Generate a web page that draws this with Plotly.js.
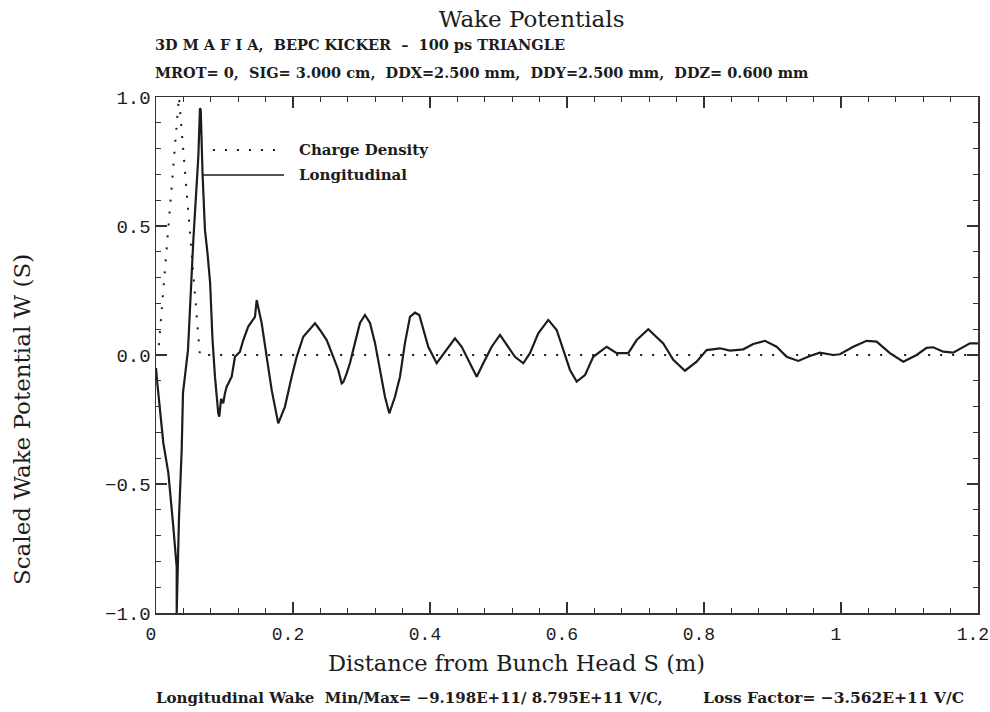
<!DOCTYPE html>
<html>
<head>
<meta charset="utf-8">
<script src="https://cdn.plot.ly/plotly-3.0.1.min.js"></script>
<style>html,body{margin:0;padding:0;background:#fff;}#chart{width:990px;height:712px;}</style>
</head>
<body>
<div id="chart"></div>
<script>
// ---- data ----
const chargeS = [0.0, 0.003, 0.0335, 0.0641, 1.2];
const chargeW = [0.0, 0.0, 1.0, 0.0, 0.0];

const wakeS = [0.0, 0.0019, 0.0107, 0.018, 0.0253, 0.0302, 0.0302, 0.0336, 0.0375, 0.0394, 0.0438, 0.0467,
  0.0545, 0.0618, 0.0642, 0.0653, 0.068, 0.0715, 0.075, 0.079, 0.0825, 0.0861, 0.0909, 0.0924,
  0.095, 0.0982, 0.1005, 0.1032, 0.1105, 0.1128, 0.1153, 0.1226, 0.1274, 0.1347, 0.1445, 0.147,
  0.1543, 0.1616, 0.1689, 0.1785, 0.1883, 0.1981, 0.2054, 0.215, 0.2248, 0.2321, 0.2394, 0.2492,
  0.2588, 0.2661, 0.2711, 0.2735, 0.2784, 0.2832, 0.2905, 0.2978, 0.3051, 0.3124, 0.3197, 0.327,
  0.3343, 0.3406, 0.3489, 0.3562, 0.3635, 0.3708, 0.3781, 0.3844, 0.3902, 0.3975, 0.4098, 0.4219,
  0.4365, 0.4463, 0.4584, 0.4682, 0.4778, 0.4901, 0.5022, 0.512, 0.5241, 0.5362, 0.546, 0.5581,
  0.5727, 0.585, 0.5946, 0.6044, 0.6142, 0.6263, 0.6384, 0.658, 0.6726, 0.6895, 0.7018, 0.7187,
  0.7406, 0.7552, 0.7723, 0.7893, 0.8039, 0.8234, 0.838, 0.8574, 0.872, 0.889, 0.9061, 0.9207,
  0.9377, 0.9547, 0.9693, 0.9888, 0.9985, 1.018, 1.0375, 1.0521, 1.0715, 1.091, 1.1105, 1.125,
  1.1347, 1.1493, 1.1639, 1.1762, 1.1883, 1.2];
const wakeW = [-0.05, -0.109, -0.341, -0.457, -0.667, -0.822, -1.0, -0.628, -0.368, -0.147, -0.047, 0.019,
  0.446, 0.769, 0.956, 0.95, 0.70, 0.484, 0.40, 0.28, 0.06, -0.084, -0.226, -0.239,
  -0.17, -0.187, -0.15, -0.123, -0.084, -0.045, -0.007, 0.013, 0.058, 0.11, 0.148, 0.213,
  0.123, -0.007, -0.136, -0.265, -0.2, -0.084, -0.007, 0.071, 0.103, 0.123, 0.097, 0.058,
  -0.007, -0.058, -0.11, -0.105, -0.071, -0.031, 0.047, 0.124, 0.155, 0.124, 0.047, -0.058,
  -0.162, -0.226, -0.162, -0.084, 0.047, 0.148, 0.164, 0.155, 0.097, 0.032, -0.032, 0.013,
  0.065, 0.032, -0.032, -0.084, -0.032, 0.032, 0.078, 0.039, -0.007, -0.032, 0.007, 0.084,
  0.136, 0.097, 0.019, -0.058, -0.103, -0.078, -0.007, 0.032, 0.007, 0.007, 0.058, 0.1,
  0.045, -0.019, -0.061, -0.026, 0.019, 0.026, 0.017, 0.022, 0.043, 0.055, 0.032, -0.007,
  -0.023, -0.004, 0.009, 0.0, 0.003, 0.032, 0.055, 0.052, 0.007, -0.026, 0.0, 0.028,
  0.03, 0.013, 0.009, 0.026, 0.045, 0.045];

const titleText = 'Wake Potentials';
const line1Text = '3D M A F I A,\u00A0\u00A0BEPC KICKER\u00A0\u00A0\u2013\u00A0\u00A0100 ps TRIANGLE';
const line2Text = 'MROT= 0,\u00A0\u00A0SIG= 3.000 cm,\u00A0\u00A0DDX=2.500 mm,\u00A0\u00A0DDY=2.500 mm,\u00A0\u00A0DDZ= 0.600 mm';
const xTitle = 'Distance from Bunch Head S (m)';
const yTitle = 'Scaled Wake Potential W (S)';
const legendNames = ['Charge Density', 'Longitudinal'];
const footLeft = 'Longitudinal Wake\u00A0\u00A0Min/Max= \u22129.198E+11/ 8.795E+11 V/C,';
const footRight = 'Loss Factor= \u22123.562E+11 V/C';

const ink = '#1c1c1c';
const mono = 'Liberation Mono, monospace';
const serif = 'DejaVu Serif, serif';

const traces = [
  {x: chargeS, y: chargeW, mode: 'lines', name: legendNames[0],
   line: {color: ink, width: 2, dash: '2px,10px'}, showlegend: false, hoverinfo: 'skip'},
  {x: wakeS, y: wakeW, mode: 'lines', name: legendNames[1],
   line: {color: ink, width: 2.2}, showlegend: false, hoverinfo: 'skip'},
  // invisible copy on the mirrored axes so that their ticks are drawn
  {x: chargeS, y: chargeW, xaxis: 'x2', yaxis: 'y2', mode: 'lines', opacity: 0,
   line: {width: 0}, showlegend: false, hoverinfo: 'skip'}
];

const tickCommon = {
  ticks: 'inside', ticklen: 11, tickwidth: 1.3, tickcolor: '#333',
  showgrid: false, zeroline: false, ticklabeloverflow: 'allow',
  tickfont: {family: mono, size: 19, color: ink}
};
const xMinor = {dtick: 0.04, tick0: 0, ticks: 'inside', ticklen: 5, tickwidth: 1, tickcolor: '#333'};
const yMinor = {dtick: 0.1, tick0: 0, ticks: 'inside', ticklen: 5, tickwidth: 1, tickcolor: '#333'};

const layout = {
  width: 990, height: 712,
  margin: {l: 156, r: 12, t: 97, b: 99},
  paper_bgcolor: '#fff', plot_bgcolor: '#fff',
  showlegend: false,
  title: {text: titleText, x: 0.537, xanchor: 'center', y: 0.974, yanchor: 'middle',
          font: {family: serif, size: 23, color: ink}},
  xaxis: Object.assign({}, tickCommon, {range: [0, 1.2001], dtick: 0.2, tick0: 0,
    ticklabelshift: -5, ticklabelstandoff: 4, tickfont: {family: mono, size: 18, color: ink},
    showline: true, linecolor: '#333', linewidth: 1.5, mirror: true, minor: xMinor}),
  yaxis: Object.assign({}, tickCommon, {range: [-1, 1], dtick: 0.5, tick0: 0, tickformat: '.1f',
    showline: true, linecolor: '#333', linewidth: 1.5, mirror: true, minor: yMinor}),
  xaxis2: Object.assign({}, tickCommon, {overlaying: 'x', side: 'top', anchor: 'y2',
    range: [0, 1.2001], dtick: 0.2, tick0: 0, showticklabels: false, showline: false, minor: xMinor}),
  yaxis2: Object.assign({}, tickCommon, {overlaying: 'y', side: 'right', anchor: 'x2',
    range: [-1, 1], dtick: 0.5, tick0: 0, showticklabels: false, showline: false, minor: yMinor}),
  shapes: [
    {type: 'line', xref: 'paper', yref: 'paper', x0: 0.0693, x1: 0.1557, y0: 0.8973, y1: 0.8973,
     line: {color: ink, width: 2, dash: '2px,10px'}},
    {type: 'line', xref: 'paper', yref: 'paper', x0: 0.056, x1: 0.1557, y0: 0.8488, y1: 0.8488,
     line: {color: ink, width: 1.6}}
  ],
  annotations: [
    {text: legendNames[0], xref: 'paper', yref: 'paper', x: 0.1715, y: 0.8973, xanchor: 'left', yanchor: 'middle',
     showarrow: false, font: {family: serif, size: 15, color: ink, weight: 'bold'}},
    {text: legendNames[1], xref: 'paper', yref: 'paper', x: 0.1715, y: 0.8488, xanchor: 'left', yanchor: 'middle',
     showarrow: false, font: {family: serif, size: 15, color: ink, weight: 'bold'}},
    {text: line1Text, xref: 'paper', yref: 'paper', x: -0.0036, y: 1.1008, xanchor: 'left', yanchor: 'middle',
     showarrow: false, font: {family: serif, size: 14.5, color: ink, weight: 'bold'}},
    {text: line2Text, xref: 'paper', yref: 'paper', x: -0.0036, y: 1.0484, xanchor: 'left', yanchor: 'middle',
     showarrow: false, font: {family: serif, size: 14.5, color: ink, weight: 'bold'}},
    {text: xTitle, xref: 'paper', yref: 'paper', x: 0.439, y: -0.0969, xanchor: 'center', yanchor: 'middle',
     showarrow: false, font: {family: serif, size: 22.5, color: ink}},
    {text: yTitle, xref: 'paper', yref: 'paper', x: -0.163, y: 0.374, xanchor: 'center', yanchor: 'middle',
     textangle: -90, showarrow: false, font: {family: serif, size: 23, color: ink}},
    {text: footLeft, xref: 'paper', yref: 'paper', x: -0.0024, y: -0.1647, xanchor: 'left', yanchor: 'middle',
     showarrow: false, font: {family: serif, size: 15, color: ink, weight: 'bold'}},
    {text: footRight, xref: 'paper', yref: 'paper', x: 0.663, y: -0.1647, xanchor: 'left', yanchor: 'middle',
     showarrow: false, font: {family: serif, size: 15.5, color: ink, weight: 'bold'}}
  ]
};

Plotly.newPlot('chart', traces, layout, {displayModeBar: false, staticPlot: true});
</script>
</body>
</html>
